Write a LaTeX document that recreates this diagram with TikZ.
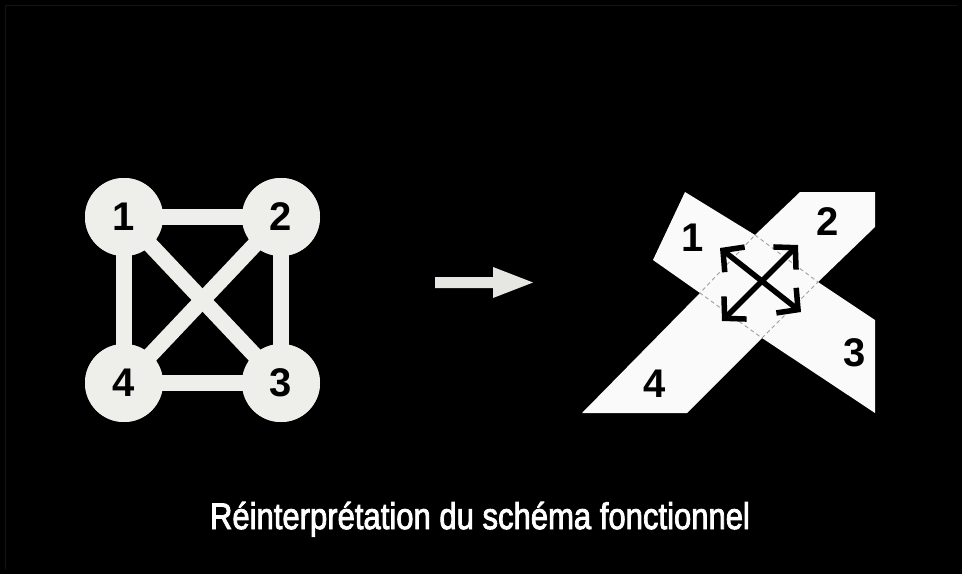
\documentclass[tikz,border=0pt]{standalone}
\usepackage{fontspec}
\usepackage{graphicx}
\setmainfont{Liberation Sans}
\newfontfamily\capfont{Liberation Sans}[FakeBold=2.5]
\usetikzlibrary{arrows.meta}
\definecolor{circfill}{HTML}{EEEEEA}
\definecolor{shapefill}{HTML}{FAFAFA}
\definecolor{midarrow}{HTML}{E6E6E2}
\definecolor{framecol}{HTML}{141414}
\tikzset{
  vertex/.style={circle, fill=circfill, minimum size=78pt, inner sep=0pt, font=\fontsize{40}{44}\selectfont\bfseries, text=black},
  edgeline/.style={draw=circfill, line width=16pt},
  digit/.style={font=\fontsize{40}{44}\selectfont\bfseries, text=black, inner sep=0pt},
  flowarrow/.style={draw=black, line width=5.5pt, {Straight Barb[length=15pt,width=32pt]}-{Straight Barb[length=15pt,width=32pt]}},
  overlapline/.style={draw=gray!75, line width=0.9pt, dash pattern=on 4pt off 3pt},
  caption/.style={text=white, inner sep=0pt, anchor=base}
}
\begin{document}
\begin{tikzpicture}[x=1pt, y=-1pt]
  \fill[black] (0,0) rectangle (962,574);
  \useasboundingbox (0,0) rectangle (962,574);
  \draw[framecol, line width=0.8pt] (5,569) -- (5,5) -- (957,5);

  % left graph
  \node[vertex] (n1) at (124,217) {};
  \node[vertex] (n2) at (281,217) {};
  \node[vertex] (n3) at (281,383) {};
  \node[vertex] (n4) at (124,383) {};
  \draw[edgeline] (n1.center) -- (n2.center);
  \draw[edgeline] (n2.center) -- (n3.center);
  \draw[edgeline] (n3.center) -- (n4.center);
  \draw[edgeline] (n4.center) -- (n1.center);
  \draw[edgeline] (n1.center) -- (n3.center);
  \draw[edgeline] (n2.center) -- (n4.center);
  \node[vertex] at (n1) {1};
  \node[vertex] at (n2) {2};
  \node[vertex] at (n3) {3};
  \node[vertex] at (n4) {4};

  % middle arrow
  \fill[midarrow] (435,277) -- (493,277) -- (493,267) -- (533,282.5) -- (493,298) -- (493,288) -- (435,288) -- cycle;

  % right shape
  \coordinate (A) at (685,192);
  \coordinate (B) at (755,235);
  \coordinate (C) at (800,192);
  \coordinate (D) at (875,192);
  \coordinate (E) at (875,227);
  \coordinate (F) at (818,282);
  \coordinate (G) at (875,320);
  \coordinate (H) at (875,413);
  \coordinate (I) at (762,338);
  \coordinate (J) at (687,413);
  \coordinate (K) at (582,413);
  \coordinate (L) at (700,293);
  \coordinate (M) at (653,260);
  \fill[shapefill] (A) -- (B) -- (C) -- (D) -- (E) -- (F) -- (G) -- (H) -- (I) -- (J) -- (K) -- (L) -- (M) -- cycle;
  \draw[overlapline] (B) -- (F) -- (I) -- (L) -- cycle;

  \node[digit] (r1) at (693,238) {1};
  \node[digit] (r2) at (828,222) {2};
  \node[digit] (r3) at (855,353) {3};
  \node[digit] (r4) at (655,384) {4};

  \coordinate (nw) at (720,248);
  \coordinate (se) at (801,312);
  \coordinate (ne) at (798,245);
  \coordinate (sw) at (722,321);
  \draw[flowarrow] (nw) -- (se);
  \draw[flowarrow] (ne) -- (sw);

  % caption
  \node[caption] (cap) at (480,529) {\resizebox{540pt}{\height}{\capfont\fontsize{37}{42}\selectfont Réinterprétation du schéma fonctionnel}};
\end{tikzpicture}
\end{document}
